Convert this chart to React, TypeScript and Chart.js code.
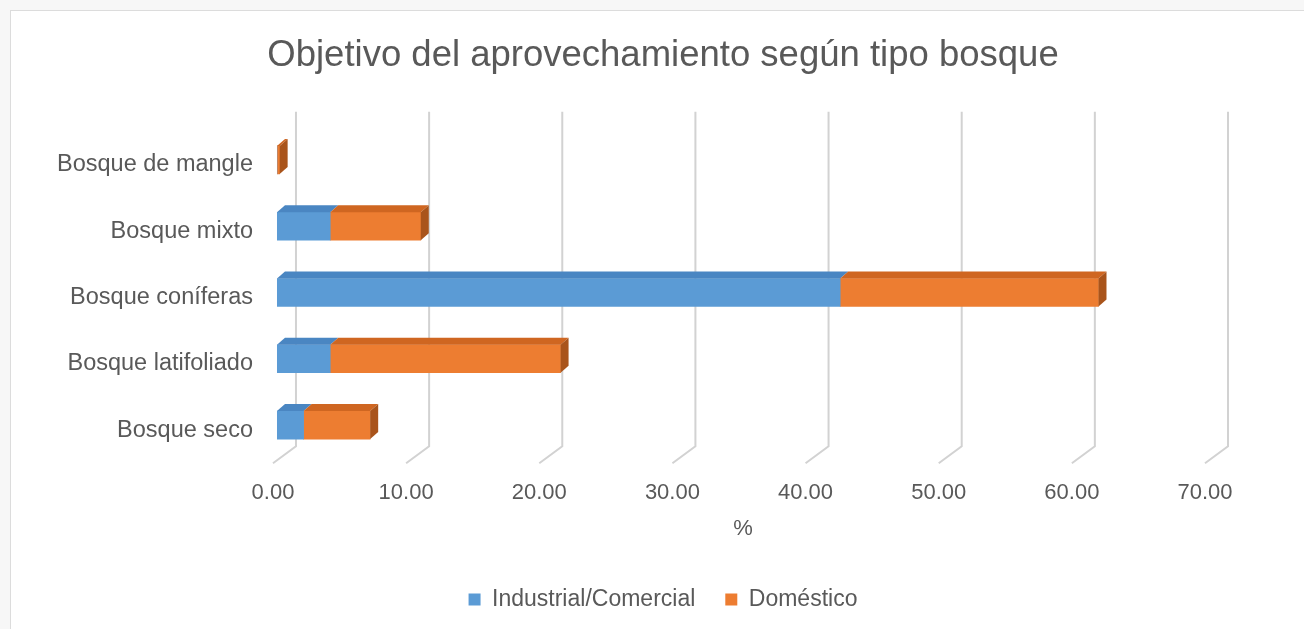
import React, { useEffect, useRef } from "react";
import { Chart, registerables } from "chart.js";

Chart.register(...registerables);

const categories = [
  "Bosque de mangle",
  "Bosque mixto",
  "Bosque coníferas",
  "Bosque latifoliado",
  "Bosque seco",
];
const industrialComercial = [0, 4.0, 42.3, 4.0, 2.0];
const domestico = [0.2, 6.8, 19.4, 17.3, 5.0];
const seriesNames = ["Industrial/Comercial", "Doméstico"];
const xTicks = [0, 10, 20, 30, 40, 50, 60, 70];
const chartTitle = "Objetivo del aprovechamiento según tipo bosque";
const xAxisTitle = "%";

const FRONT = ["#5b9bd5", "#ed7d31"];
const TOP = ["#4a86c2", "#cf6621"];
const SIDE = ["#3d70a3", "#a9541b"];
const TEXT = "#595959";
const FONT = "'Liberation Sans', Arial, sans-serif";
const DX = 8;
const DY = -7;

const depthPlugin = {
  id: "depth3d",
  beforeDatasetsDraw(chart: any) {
    const { ctx, chartArea } = chart;
    const xs = chart.scales.x;
    ctx.save();
    ctx.strokeStyle = "#d2d2d2";
    ctx.lineWidth = 2;
    for (const v of xTicks) {
      const p = xs.getPixelForValue(v);
      ctx.beginPath();
      ctx.moveTo(p + 19, chartArea.top - 15);
      ctx.lineTo(p + 19, chartArea.bottom - 12);
      ctx.lineTo(p - 4, chartArea.bottom + 5);
      ctx.stroke();
    }
    ctx.restore();
  },
  afterDatasetsDraw(chart: any) {
    const { ctx } = chart;
    const nCat = categories.length;
    ctx.save();
    for (let j = 0; j < nCat; j++) {
      let lastIdx = -1;
      chart.data.datasets.forEach((ds: any, i: number) => {
        if (ds.data[j] > 0) lastIdx = i;
      });
      chart.data.datasets.forEach((ds: any, i: number) => {
        if (!(ds.data[j] > 0)) return;
        const el = chart.getDatasetMeta(i).data[j];
        const { x, y, base, height } = el.getProps(["x", "y", "base", "height"], true);
        const top = y - height / 2;
        const bottom = y + height / 2;
        ctx.fillStyle = TOP[i];
        ctx.beginPath();
        ctx.moveTo(base, top);
        ctx.lineTo(x, top);
        ctx.lineTo(x + DX, top + DY);
        ctx.lineTo(base + DX, top + DY);
        ctx.closePath();
        ctx.fill();
        if (i === lastIdx) {
          ctx.fillStyle = SIDE[i];
          ctx.beginPath();
          ctx.moveTo(x, top);
          ctx.lineTo(x + DX, top + DY);
          ctx.lineTo(x + DX, bottom + DY);
          ctx.lineTo(x, bottom);
          ctx.closePath();
          ctx.fill();
        }
      });
    }
    ctx.restore();
  },
};

export default function App() {
  const ref = useRef<HTMLCanvasElement>(null);

  useEffect(() => {
    document.body.style.background = "#f7f7f7";
    const chart = new Chart(ref.current as HTMLCanvasElement, {
      type: "bar",
      data: {
        labels: categories,
        datasets: [
          {
            label: seriesNames[0],
            data: industrialComercial,
            backgroundColor: FRONT[0],
            barThickness: 28,
          },
          {
            label: seriesNames[1],
            data: domestico,
            backgroundColor: FRONT[1],
            barThickness: 28,
          },
        ],
      },
      options: {
        indexAxis: "y",
        animation: false,
        responsive: false,
        maintainAspectRatio: false,
        layout: { padding: { left: 33, right: 11, top: 0, bottom: 8 } },
        scales: {
          x: {
            stacked: true,
            min: 0,
            max: 70,
            afterBuildTicks: (axis: any) => {
              axis.ticks = xTicks.map((v) => ({ value: v }));
            },
            ticks: {
              color: TEXT,
              font: { family: FONT, size: 22 },
              padding: 22,
              labelOffset: -4,
              callback: (v: any) => Number(v).toFixed(2),
            },
            grid: { display: false, drawTicks: false },
            border: { display: false },
            title: {
              display: true,
              text: xAxisTitle,
              color: TEXT,
              font: { family: FONT, size: 22 },
              padding: { top: -13, bottom: 16 },
            },
          },
          y: {
            stacked: true,
            ticks: {
              color: TEXT,
              font: { family: FONT, size: 23.5 },
              padding: 24,
              labelOffset: 5,
            },
            grid: { display: false, drawTicks: false },
            border: { display: false },
          },
          ySpacer: {
            type: "linear",
            position: "right",
            display: true,
            ticks: { display: false },
            grid: { display: false, drawTicks: false },
            border: { display: false },
            afterFit: (axis: any) => {
              axis.width = 84;
            },
          },
        },
        plugins: {
          title: {
            display: true,
            text: chartTitle,
            color: TEXT,
            font: { family: FONT, size: 36.5, weight: "normal" },
            padding: { top: 34, bottom: 49 },
          },
          legend: {
            position: "bottom",
            labels: {
              color: TEXT,
              font: { family: FONT, size: 23 },
              boxWidth: 12,
              boxHeight: 12,
              padding: 30,
            },
          },
          tooltip: { enabled: false },
        },
      },
      plugins: [depthPlugin],
    });
    return () => chart.destroy();
  }, []);

  return (
    <>
      <div
        style={{
          position: "fixed",
          left: 10,
          top: 10,
          width: 1400,
          height: 700,
          background: "#ffffff",
          border: "1px solid #dcdcdc",
        }}
      />
      <canvas
        ref={ref}
        width={1304}
        height={629}
        style={{ position: "fixed", left: 0, top: 0, width: 1304, height: 629 }}
      />
    </>
  );
}
